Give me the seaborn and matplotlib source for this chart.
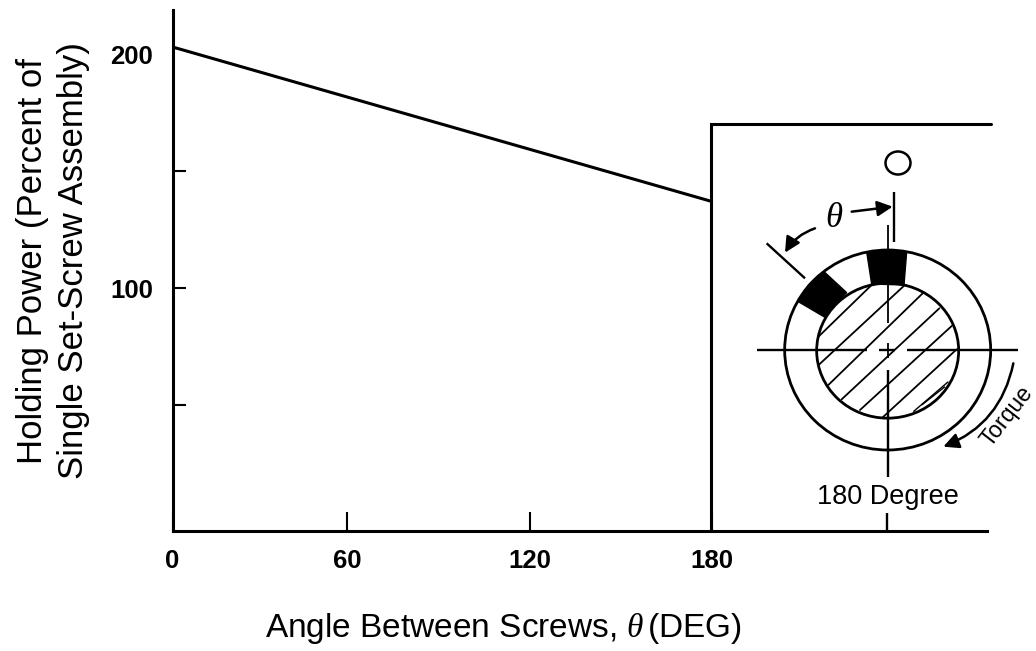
import numpy as np
import pandas as pd
import seaborn as sns
import matplotlib
matplotlib.use("Agg")
import matplotlib.pyplot as plt
from matplotlib.patches import Ellipse, Polygon, FancyArrowPatch

# ---- data ----
angle = [0, 180]
holding_power = [203, 137]
x_tick_pos = [0, 58.4, 119.2, 180]
x_tick_labels = ["0", "60", "120", "180"]
y_tick_pos = [50, 100, 150, 200]
y_tick_labels = ["", "100", "", "200"]
x_label = r"Angle Between Screws, $\theta\,$(DEG)"
y_label = "Holding Power (Percent of\nSingle Set-Screw Assembly)"

W, H = 1036, 651
sns.set_theme(style="white")
plt.rcParams["font.family"] = ["Liberation Sans", "DejaVu Sans"]
plt.rcParams["mathtext.fontset"] = "custom"
plt.rcParams["mathtext.rm"] = "Liberation Sans"
plt.rcParams["mathtext.it"] = "Liberation Serif:italic"

fig = plt.figure(figsize=(W / 100, H / 100), dpi=100)
L, R, T, B = 172.5, 990, 10, 531
ax = fig.add_axes([L / W, 1 - B / H, (R - L) / W, (B - T) / H])

df = pd.DataFrame({"angle": angle, "power": holding_power})
sns.lineplot(data=df, x="angle", y="power", color="black", linewidth=2.2, ax=ax)

ax.set_xlim(0, (R - L) / 2.995)
ax.set_ylim(100 - (B - 288) / 2.34, 100 + (288 - T) / 2.34)
ax.spines["top"].set_visible(False)
ax.spines["right"].set_visible(False)
for s in ("left", "bottom"):
    ax.spines[s].set_linewidth(2.2)
    ax.spines[s].set_color("black")
ax.spines["bottom"].set_bounds(0, (987 - L) / 2.995)
ax.set_xticks(x_tick_pos)
ax.set_xticklabels(x_tick_labels, fontsize=18.5, fontweight="bold")
ax.set_yticks(y_tick_pos)
ax.set_yticklabels(y_tick_labels, fontsize=18.5, fontweight="bold")
ax.tick_params(axis="x", direction="in", length=14, width=1.5, pad=13, color="black", labelcolor="black", bottom=True)
ax.tick_params(axis="y", direction="in", length=9, width=1.5, pad=14, color="black", labelcolor="black", left=True)
ax.yaxis.get_major_ticks()[-1].tick1line.set_visible(False)
ax.set_xlabel("")
ax.set_ylabel("")

# overlay in reference pixels for the schematic and axis titles
ov = fig.add_axes([0, 0, 1, 1], facecolor="none")
ov.set_xlim(0, W)
ov.set_ylim(H, 0)
ov.axis("off")


def Z(x, y):
    """crop coordinates to figure pixels"""
    return 700 + x / 3, 110 + y / 3


def seg(x0, y0, x1, y1, lw=1.7):
    a, b = Z(x0, y0), Z(x1, y1)
    ov.plot([a[0], b[0]], [a[1], b[1]], color="black", lw=lw, solid_capstyle="butt")


ov.text(53, 261, y_label, rotation=90, ha="center", va="center", fontsize=25,
        linespacing=1.33, color="black")
ov.text(503, 629, x_label, ha="center", va="center", fontsize=24, color="black")

# frame of the inset
ov.plot([711, 711, 991], [531, 124, 124], color="black", lw=2.2, solid_joinstyle="miter")

# small reference circle
ov.add_patch(Ellipse((898, 163), 25, 23, fill=False, ec="black", lw=1.8))

# sleeve and shaft
cx, cy = Z(563, 720)
ov.add_patch(Ellipse((cx, cy), 206, 200, fill=False, ec="black", lw=2.0))
shaft = Ellipse(Z(563, 722), 142, 135, fill=False, ec="black", lw=2.0)
ov.add_patch(shaft)

# hatching, clipped to the shaft
hatch = [(340, 695, 520, 520), (345, 775, 620, 520), (385, 825, 668, 550),
         (425, 868, 718, 595), (480, 900, 755, 648), (548, 922, 770, 718)]
for x0, y0, x1, y1 in hatch:
    a, b = Z(x0, y0), Z(x1, y1)
    ln, = ov.plot([a[0], b[0]], [a[1], b[1]], color="black", lw=1.3)
    ln.set_clip_path(shaft)

# set screws
ov.add_patch(Polygon([Z(500, 425), Z(620, 425), Z(612, 525), Z(515, 522)], closed=True, fc="black", ec="black"))
ov.add_patch(Polygon([Z(372, 485), Z(440, 548), Z(400, 585), Z(375, 622), Z(295, 575), Z(325, 525)],
                     closed=True, fc="black", ec="black"))

# centre lines
seg(172, 720, 500, 720)
seg(538, 720, 585, 720)
seg(622, 720, 955, 720)
seg(563, 345, 563, 640, 1.3)
seg(563, 700, 563, 745, 1.3)
seg(563, 780, 563, 1100)
seg(583, 247, 583, 397)
seg(560, 1210, 560, 1265)
seg(200, 400, 315, 505)
# keyway flat
seg(640, 905, 745, 815, 1.0)
seg(665, 885, 735, 830, 1.0)

# arrows
style = dict(color="black", lw=1.8, arrowstyle="-|>", mutation_scale=23, shrinkA=0, shrinkB=0)
ov.add_patch(FancyArrowPatch(Z(455, 305), Z(578, 290), **style))
ov.add_patch(FancyArrowPatch(Z(345, 355), Z(255, 428), connectionstyle="arc3,rad=0.18", **style))
ov.add_patch(FancyArrowPatch(Z(940, 760), Z(730, 1010), connectionstyle="arc3,rad=-0.27", **style))

ov.text(*Z(402, 322), r"$\theta$", ha="center", va="center", fontsize=25, color="black")
ov.text(*Z(565, 1160), "180 Degree", ha="center", va="center", fontsize=19.5, color="black")
ov.text(*Z(922, 918), "Torque", rotation=52, ha="center", va="center", fontsize=16.5, color="black")

fig.savefig("out.png", dpi=100)
